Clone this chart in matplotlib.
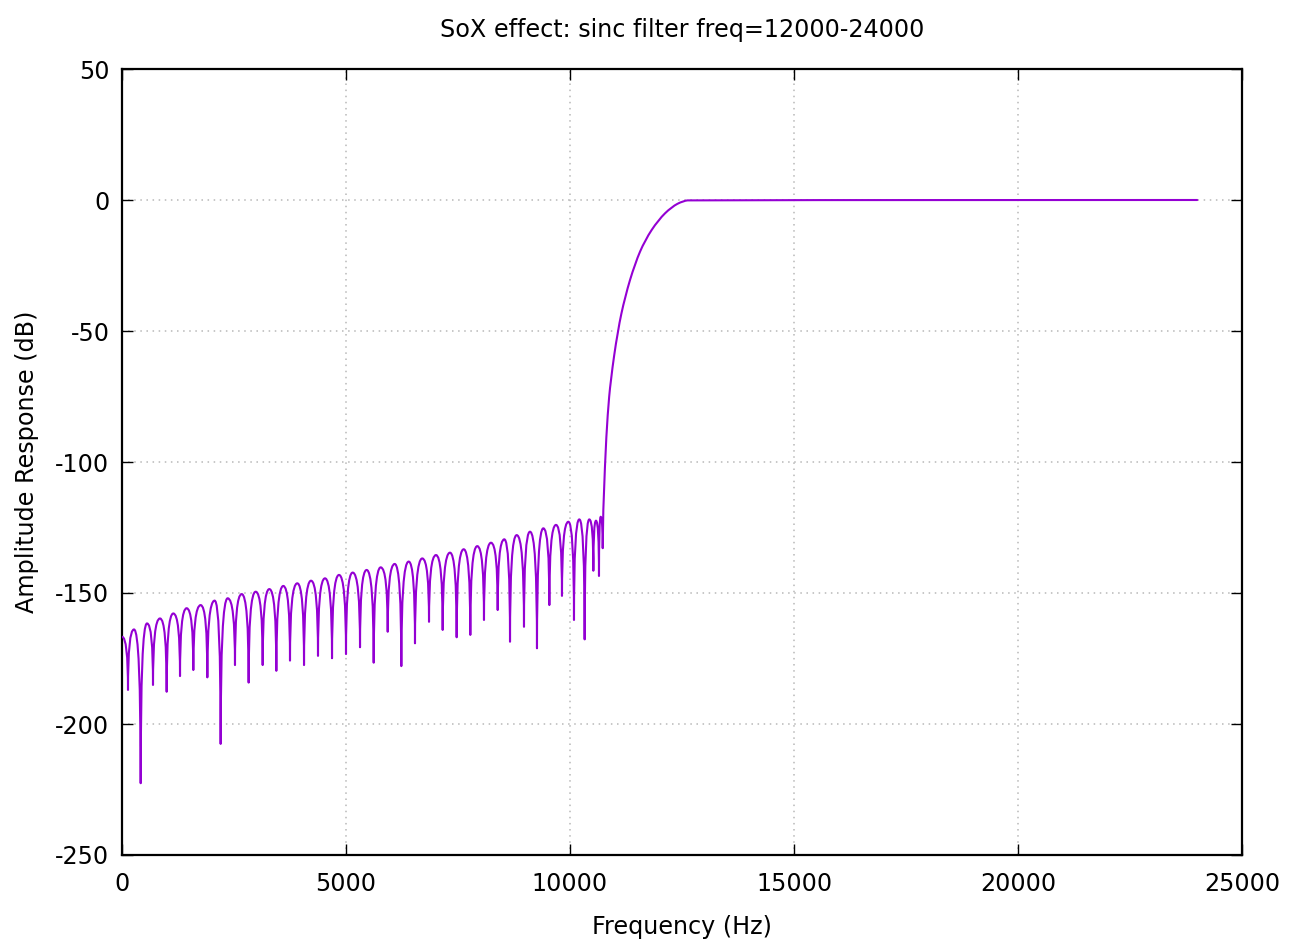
import matplotlib
matplotlib.use("Agg")
import matplotlib.pyplot as plt
from matplotlib.path import Path
from matplotlib.patches import PathPatch

# ---------------- data ----------------
title = "SoX effect: sinc filter freq=12000-24000"
x_label = "Frequency (Hz)"
y_label = "Amplitude Response (dB)"
x_ticks = [0, 5000, 10000, 15000, 20000, 25000]
y_ticks = [-250, -200, -150, -100, -50, 0, 50]

# stop-band lobe tops (Hz, dB)
lobe_peak_freq = [0, 268, 558, 848, 1146, 1443, 1756, 2068, 2359, 2671,
                  2984, 3289, 3601, 3913, 4219, 4531, 4844, 5149, 5461, 5775,
                  6087, 6399, 6703, 7009, 7321, 7627, 7931, 8237, 8533, 8810,
                  9107, 9405, 9688, 9963, 10208, 10431, 10580, 10685]
lobe_peak_db = [-166.7, -163.9, -161.6, -159.7, -157.8, -155.8, -154.6, -152.9,
                -152.0, -150.4, -149.5, -148.5, -147.3, -146.3, -145.3, -144.4,
                -143.1, -142.2, -141.2, -140.2, -138.9, -138.0, -136.8, -135.5,
                -134.6, -133.3, -132.1, -130.8, -129.5, -127.9, -126.6, -125.3,
                -124.0, -122.8, -121.9, -121.9, -122.4, -120.9]

# stop-band notches (Hz, dB)
notch_freq = [134, 417, 692, 997, 1295, 1592, 1905, 2202, 2522, 2827,
              3140, 3445, 3750, 4063, 4375, 4688, 5000, 5313, 5618, 5931,
              6235, 6540, 6853, 7158, 7470, 7775, 8080, 8386, 8661, 8973,
              9263, 9539, 9821, 10089, 10327, 10521, 10647, 10730]
notch_db = [-187.0, -222.6, -185.1, -187.7, -181.7, -179.4, -182.2, -207.6,
            -177.5, -184.2, -177.5, -179.7, -175.8, -177.5, -174.0, -174.9,
            -173.3, -170.7, -176.6, -164.8, -177.9, -169.2, -161.0, -164.1,
            -166.9, -166.0, -160.3, -156.5, -168.6, -162.9, -171.1, -154.6,
            -151.1, -160.3, -167.7, -141.5, -143.5, -132.9]

# transition band and pass band (Hz, dB)
transition_freq = [10744, 10781, 10841, 10908, 11064, 11228, 11451, 11674,
                   11971, 12269, 12530, 12717, 24000]
transition_db = [-118.3, -100.0, -81.4, -68.7, -50.0, -36.9, -24.2, -15.3,
                 -7.6, -2.6, -0.3, 0.0, 0.0]

# ---------------- styling ----------------
plt.rcParams["font.family"] = ["DejaVu Sans"]
plt.rcParams["axes.unicode_minus"] = False
FS = 17.2
LINE_COLOR = "#9400D3"

fig = plt.figure(figsize=(12.89, 9.43), dpi=100)
ax = fig.add_axes([122 / 1289, 1 - 855 / 943, 1120 / 1289, 786 / 943])

# response curve: rounded lobes (quadratic Bezier) between lobe tops and
# notches, then a smoothed quadratic spline through the transition band
verts = [(lobe_peak_freq[0], lobe_peak_db[0])]
codes = [Path.MOVETO]
for i in range(len(notch_freq)):
    nx, ny = notch_freq[i], notch_db[i]
    verts += [(nx, lobe_peak_db[i]), (nx, ny)]
    codes += [Path.CURVE3, Path.CURVE3]
    if i + 1 < len(lobe_peak_freq):
        verts += [(nx, lobe_peak_db[i + 1]),
                  (lobe_peak_freq[i + 1], lobe_peak_db[i + 1])]
        codes += [Path.CURVE3, Path.CURVE3]

tpts = list(zip(transition_freq, transition_db))
verts.append(tpts[0])
codes.append(Path.LINETO)
for k in range(1, len(tpts) - 2):
    mid = ((tpts[k][0] + tpts[k + 1][0]) / 2, (tpts[k][1] + tpts[k + 1][1]) / 2)
    verts += [tpts[k], mid]
    codes += [Path.CURVE3, Path.CURVE3]
verts += [tpts[-2], tpts[-1]]
codes += [Path.CURVE3, Path.CURVE3]

patch = PathPatch(Path(verts, codes), facecolor="none", edgecolor=LINE_COLOR,
                  linewidth=1.5, joinstyle="round", capstyle="round", zorder=3)
ax.add_patch(patch)

ax.set_xlim(x_ticks[0], x_ticks[-1])
ax.set_ylim(y_ticks[0], y_ticks[-1])
ax.set_xticks(x_ticks)
ax.set_yticks(y_ticks)
ax.set_xticklabels([str(v) for v in x_ticks])
ax.set_yticklabels([str(v) for v in y_ticks])

ax.grid(True, color="#b8b8b8", linestyle=(0, (1, 3)), linewidth=1.1, zorder=1)
for s in ax.spines.values():
    s.set_linewidth(1.6)
    s.set_color("black")

ax.tick_params(axis="both", direction="in", length=8, width=1.0,
               top=True, right=True, labelsize=FS, colors="black")
ax.tick_params(axis="x", pad=12)
ax.tick_params(axis="y", pad=9)

ax.set_title(title, fontsize=FS, pad=23)
ax.set_xlabel(x_label, fontsize=FS, labelpad=14)
ax.set_ylabel(y_label, fontsize=FS, labelpad=12)

fig.savefig("out.png", dpi=100)
